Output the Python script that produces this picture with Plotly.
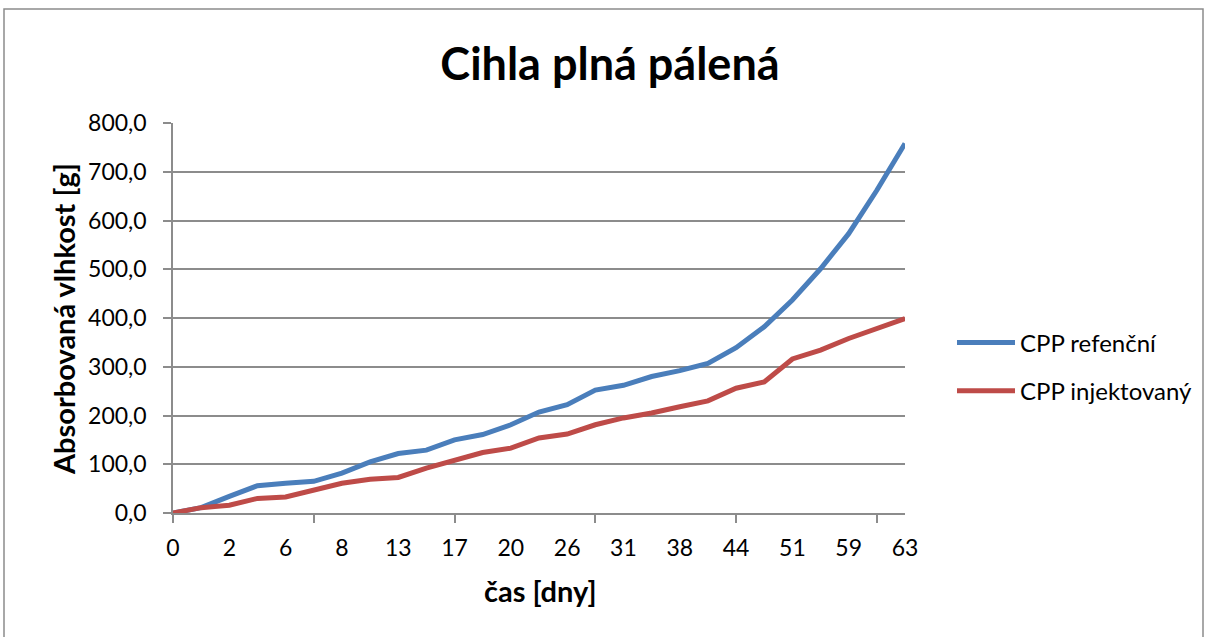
import plotly.graph_objects as go

# category days (every 2nd is labelled in the reference)
days = ["0", "1", "2", "4", "6", "7", "8", "10", "13", "15", "17", "19", "20", "22",
        "26", "28", "31", "34", "38", "41", "44", "48", "51", "55", "59", "61", "63"]
ref_vals = [0, 11, 34, 56, 61, 65, 82, 105, 122, 129, 150, 161, 181, 207, 222, 252,
            262, 280, 292, 307, 339, 382, 437, 501, 573, 662, 758]
inj_vals = [0, 11, 16, 30, 33, 47, 61, 69, 73, 92, 107, 124, 133, 154, 162, 181,
            195, 205, 218, 230, 256, 269, 316, 334, 358, 379, 399]
series_names = ["CPP refenční", "CPP injektovaný"]
colors = ["#4A7EBB", "#BE4B48"]
y_ticks = [0, 100, 200, 300, 400, 500, 600, 700, 800]

idx = list(range(len(days)))
FONT = "Lato"
GRID = "#8C8C8C"

fig = go.Figure()
for i, (name, vals) in enumerate(zip(series_names, [ref_vals, inj_vals])):
    fig.add_trace(go.Scatter(
        x=idx, y=vals, mode="lines", name=name, legendgroup=f"g{i}",
        line=dict(color=colors[i], width=5),
    ))

W, H = 1206, 637
L, R, T, B = 173, 905, 123, 513
pw, ph = R - L, B - T

def px(xp):
    return (xp - L) / pw

def py(yp):
    return (B - yp) / ph

fig.update_layout(
    width=W, height=H,
    margin=dict(l=L, r=W - R, t=T, b=H - B, pad=0, autoexpand=False),
    paper_bgcolor="white", plot_bgcolor="white",
    separators=", ",
    font=dict(family=FONT, size=23, color="black"),
    title=dict(text="<b>Cihla plná pálená</b>", x=610 / W, xanchor="center",
               y=1 - 64 / H, yanchor="middle", yref="container",
               font=dict(family=FONT, size=45, color="black")),
    showlegend=True,
    legend=dict(x=px(952), y=py(367), xanchor="left", yanchor="middle",
                font=dict(family=FONT, size=24, color="black"),
                tracegroupgap=14, itemwidth=58, bgcolor="rgba(0,0,0,0)"),
    xaxis=dict(
        range=[0, len(days) - 1], showgrid=False, zeroline=False,
        tickmode="array", tickvals=idx[::2], ticktext=days[::2],
        ticks="", ticklabelstandoff=14,
        showline=True, linecolor=GRID, linewidth=1.5,
        minor=dict(tickmode="array", tickvals=idx[::5], ticks="outside",
                   ticklen=8, tickwidth=1.5, tickcolor=GRID, showgrid=False),
        tickfont=dict(family=FONT, size=23, color="black"),
    ),
    yaxis=dict(
        range=[0, 800], tickmode="array", tickvals=y_ticks, tickformat=".1f",
        showgrid=True, gridcolor=GRID, gridwidth=1.5, zeroline=False,
        ticks="outside", ticklen=8, tickwidth=1.5, tickcolor=GRID,
        showline=True, linecolor=GRID, linewidth=1.5, ticklabelstandoff=12,
        tickfont=dict(family=FONT, size=23, color="black"),
    ),
    annotations=[
        dict(text="<b>čas [dny]</b>", xref="paper", yref="paper",
             x=px(540), y=py(590), xanchor="center", yanchor="middle",
             showarrow=False, font=dict(family=FONT, size=29, color="black")),
        dict(text="<b>Absorbovaná vlhkost [g]</b>", xref="paper", yref="paper",
             x=px(63), y=py(319), xanchor="center", yanchor="middle",
             textangle=-90, showarrow=False,
             font=dict(family=FONT, size=29, color="black")),
    ],
    shapes=[
        dict(type="rect", xref="paper", yref="paper",
             x0=px(4), x1=px(1203), y0=py(660), y1=py(9),
             line=dict(color="#8C8C8C", width=1.5), fillcolor="rgba(0,0,0,0)",
             layer="below"),
    ],
)

fig.write_html(
    "out.html",
    config={"displayModeBar": False},
    post_script="document.body.style.margin='0px';"
                "document.body.style.overflow='hidden';"
                "document.documentElement.style.overflow='hidden';",
)
